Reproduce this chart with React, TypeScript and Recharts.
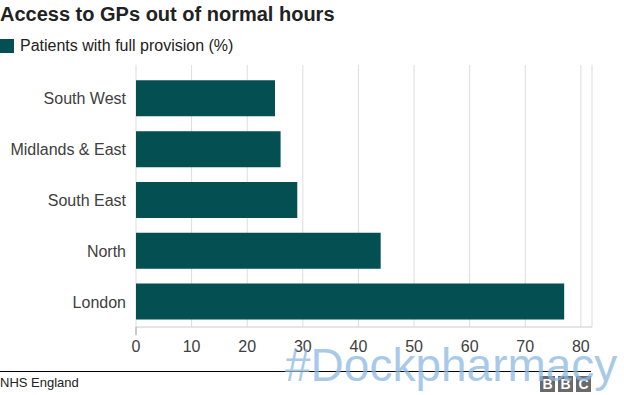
import React from "react";
import { BarChart, Bar, XAxis, YAxis, CartesianGrid } from "recharts";

const categories = ["South West", "Midlands & East", "South East", "North", "London"];
const fullProvision = [25, 26, 29, 44, 77];
const xTicks = [0, 10, 20, 30, 40, 50, 60, 70, 80];

const data = categories.map((region, i) => ({ region, value: fullProvision[i] }));

const FONT = "'Liberation Sans', Arial, Helvetica, sans-serif";
const BAR_COLOR = "#034f51";

const XTick = (props: any) => {
  const { x, y, payload } = props;
  return (
    <g>
      {payload.value === 0 && (
        <line x1={x} x2={x} y1={y - 8} y2={y + 0} stroke="#999" strokeWidth={1} />
      )}
      <text x={x} y={y + 17} textAnchor="middle" fill="#404040" fontSize={16} fontFamily={FONT}>
        {payload.value}
      </text>
    </g>
  );
};

const YTick = (props: any) => {
  const { x, y, payload } = props;
  return (
    <text x={x} y={y + 6} textAnchor="end" fill="#404040" fontSize={16} fontFamily={FONT}>
      {payload.value}
    </text>
  );
};

const BBCBox = ({ letter, left }: { letter: string; left: number }) => (
  <div
    style={{
      position: "absolute",
      left,
      top: 376,
      width: 15,
      height: 16,
      background: "#6a6a6a",
      color: "#fff",
      fontFamily: FONT,
      fontWeight: 700,
      fontSize: 14,
      lineHeight: "16px",
      textAlign: "center",
    }}
  >
    {letter}
  </div>
);

export default function App() {
  return (
    <div style={{ position: "absolute", left: 0, top: 0, width: 624, height: 395, background: "#fff", overflow: "hidden" }}>
      <div
        style={{
          position: "absolute",
          left: 0,
          top: 3,
          fontFamily: FONT,
          fontWeight: 700,
          fontSize: 20,
          color: "#222",
          whiteSpace: "nowrap",
        }}
      >
        Access to GPs out of normal hours
      </div>
      <div style={{ position: "absolute", left: 0, top: 39, width: 14, height: 14, background: BAR_COLOR }} />
      <div
        style={{
          position: "absolute",
          left: 20,
          top: 37,
          fontFamily: FONT,
          fontSize: 16,
          color: "#222",
          whiteSpace: "nowrap",
        }}
      >
        Patients with full provision (%)
      </div>
      <div style={{ position: "absolute", left: 0, top: 0 }}>
        <BarChart
          width={624}
          height={395}
          data={data}
          layout="vertical"
          margin={{ top: 65, right: 32, bottom: 28, left: 0 }}
          barCategoryGap="14.5%"
        >
          <CartesianGrid horizontal={false} stroke="#dddddd" strokeWidth={1} />
          <XAxis
            type="number"
            domain={[0, 82]}
            ticks={xTicks}
            tick={<XTick />}
            tickLine={false}
            axisLine={{ stroke: "#cccccc" }}
            height={40}
          />
          <YAxis
            type="category"
            dataKey="region"
            width={136}
            tick={<YTick />}
            tickLine={false}
            axisLine={false}
            tickSize={0}
            tickMargin={10}
            padding={{ top: 8, bottom: 0 }}
          />
          <Bar dataKey="value" fill={BAR_COLOR} isAnimationActive={false} />
        </BarChart>
      </div>
      <div style={{ position: "absolute", left: 0, top: 371, width: 591, height: 1, background: "#000" }} />
      <div
        style={{
          position: "absolute",
          left: 0,
          top: 375,
          fontFamily: FONT,
          fontSize: 13,
          color: "#222",
          whiteSpace: "nowrap",
        }}
      >
        NHS England
      </div>
      <BBCBox letter="B" left={540} />
      <BBCBox letter="B" left={558} />
      <BBCBox letter="C" left={576} />
      <div
        style={{
          position: "absolute",
          left: 285,
          top: 339,
          fontFamily: FONT,
          fontSize: 46,
          lineHeight: "53px",
          color: "rgba(140,185,225,0.75)",
          whiteSpace: "nowrap",
        }}
      >
        #Dockpharmacy
      </div>
    </div>
  );
}
